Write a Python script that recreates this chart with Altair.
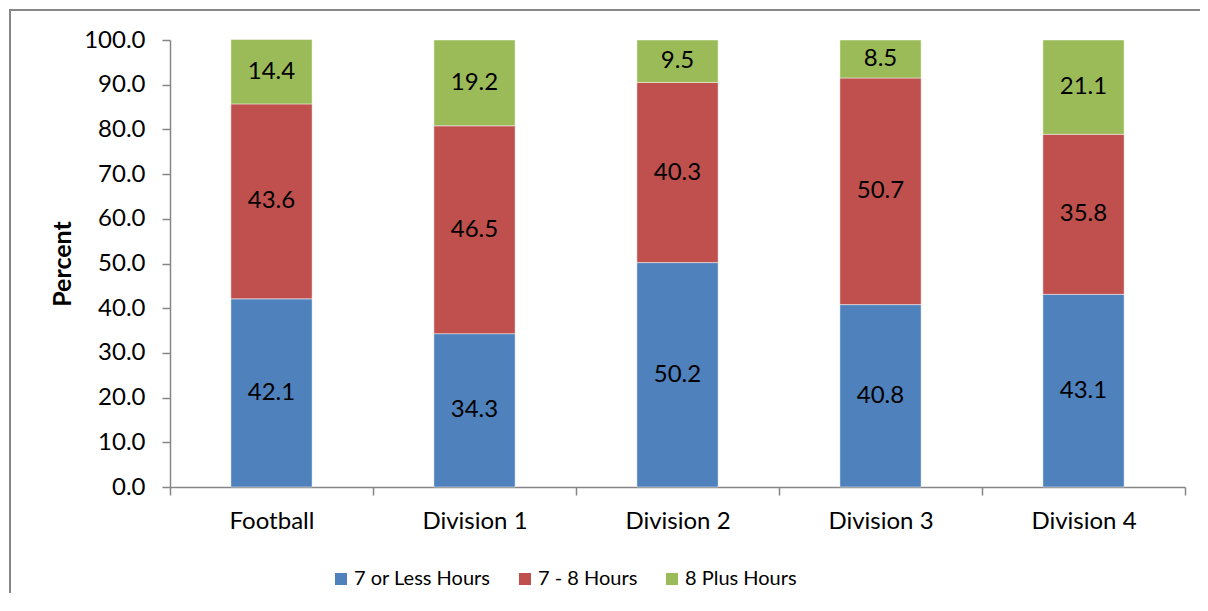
import altair as alt
import pandas as pd

categories = ["Football", "Division 1", "Division 2", "Division 3", "Division 4"]
series = ["7 or Less Hours", "7 - 8 Hours", "8 Plus Hours"]
less7 = [42.1, 34.3, 50.2, 40.8, 43.1]
h7to8 = [43.6, 46.5, 40.3, 50.7, 35.8]
plus8 = [14.4, 19.2, 9.5, 8.5, 21.1]
colors = ["#4F81BD", "#C0504D", "#9BBB59"]
y_ticks = [0, 10, 20, 30, 40, 50, 60, 70, 80, 90, 100]

rows = []
for si, (name, vals) in enumerate(zip(series, [less7, h7to8, plus8])):
    for c, v in zip(categories, vals):
        rows.append({"category": c, "series": name, "order": si, "value": v})
df = pd.DataFrame(rows)

FONT = "Lato"
GRAY = "#868686"
W, H = 1015, 447

base = alt.Chart(df).transform_stack(
    stack="value", as_=["y0", "y1"], groupby=["category"],
    sort=[alt.SortField("order", order="ascending")]
).transform_calculate(mid="(datum.y0 + datum.y1) / 2")

xenc = alt.X("category:N", sort=categories,
             scale=alt.Scale(paddingInner=0, paddingOuter=0),
             axis=alt.Axis(title=None, tickBand="extent", labelAngle=0,
                           labelPadding=14))

bars = base.mark_bar(stroke="white", strokeWidth=1, strokeOpacity=0.45,
                     width=alt.RelativeBandSize(0.4)).encode(
    x=xenc,
    y=alt.Y("y0:Q", scale=alt.Scale(domain=[0, 100], nice=False),
            axis=alt.Axis(values=y_ticks, format=".1f", title="Percent",
                          titleFontWeight="bold", titleFontSize=25,
                          titleAngle=270, titleX=-108, titleY=H / 2,
                          titleAlign="center", titleBaseline="middle",
                          labelPadding=17)),
    y2="y1:Q",
    color=alt.Color("series:N", sort=series,
                    scale=alt.Scale(domain=series, range=colors),
                    legend=alt.Legend(title=None, orient="none", legendX=161,
                                      legendY=529, direction="horizontal",
                                      symbolType="square", symbolSize=144,
                                      symbolStrokeWidth=0, labelFontSize=20,
                                      labelFont=FONT, labelColor="black",
                                      columnPadding=24, labelOffset=3)),
    order=alt.Order("order:Q"),
)

labels = base.mark_text(font=FONT, fontSize=24, color="black").encode(
    x=alt.X("category:N", sort=categories),
    y=alt.Y("mid:Q"),
    text=alt.Text("value:Q", format=".1f"),
)

border = alt.Chart(df).mark_rect(fill=None, fillOpacity=0, stroke=GRAY,
                                 strokeWidth=2).encode(
    x=alt.value(-160), x2=alt.value(1120), y=alt.value(-30), y2=alt.value(700))

chart = alt.layer(bars, labels, border).properties(
    width=W, height=H,
    autosize=alt.AutoSizeParams(type="none"),
    padding={"left": 162, "top": 32, "right": 15, "bottom": 106},
).configure_view(stroke=None).configure_axis(
    domainColor=GRAY, domainWidth=1.5, tickColor=GRAY, tickWidth=1.5,
    tickSize=8, labelFont=FONT, labelFontSize=24, labelColor="black",
    titleFont=FONT, titleColor="black", grid=False,
)

chart.save("out.html", embed_options={"renderer": "svg", "actions": False})
